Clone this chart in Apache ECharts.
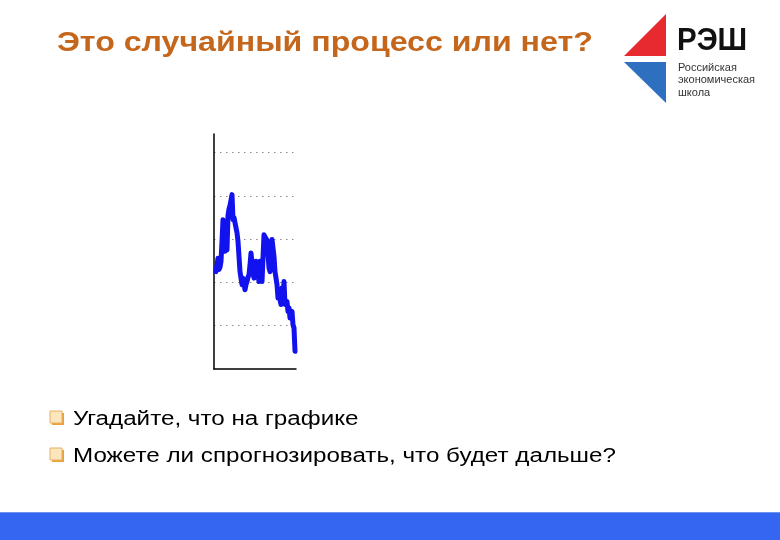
<!DOCTYPE html>
<html>
<head>
<meta charset="utf-8">
<script src="https://cdn.jsdelivr.net/npm/echarts@6/dist/echarts.min.js"></script>
<style>
html,body{margin:0;padding:0;background:#fff;}
#main{width:780px;height:540px;}
</style>
</head>
<body>
<div id="main"></div>
<script>
// Data (time index, value in grid units)
var timeIndex = [];
for (var k = 0; k < 80; k++) timeIndex.push(k);
var seriesValues = [
  2.25, 2.40, 2.56, 2.30, 2.35, 2.49, 2.95, 3.45, 3.10, 2.72,
  2.80, 2.75, 3.55, 3.70, 3.78, 3.90, 4.03, 3.45, 3.50, 3.38,
  3.42, 3.15, 2.95, 2.60, 2.25, 2.10, 1.95, 2.10, 1.98, 1.83,
  1.95, 2.02, 2.12, 2.18, 2.40, 2.68, 2.45, 2.25, 2.10, 2.30,
  2.49, 2.45, 2.20, 2.02, 2.49, 2.30, 2.02, 2.56, 3.10, 3.05,
  3.03, 2.98, 2.95, 2.33, 2.25, 2.60, 2.99, 2.95, 2.60, 2.25,
  2.10, 1.95, 1.64, 1.72, 1.60, 1.49, 1.87, 1.64, 2.02, 1.49,
  1.52, 1.56, 1.33, 1.41, 1.18, 1.28, 1.33, 1.02, 0.95, 0.41
];
var titleText = 'Это случайный процесс или нет?';
var bulletTexts = ['Угадайте, что на графике', 'Можете ли спрогнозировать, что будет дальше?'];
var logoBig = 'РЭШ';
var logoSmall = ['Российская', 'экономическая', 'школа'];

var pairs = timeIndex.map(function (t, i) { return [t, seriesValues[i]]; });

var chart = echarts.init(document.getElementById('main'), null, {renderer: 'canvas'});

var graphics = [];
// title (slide is stretched horizontally)
graphics.push({
  type: 'text', x: 57, y: 30, scaleX: 1.19,
  style: {x: 0, y: 0, text: titleText, font: 'bold 27px "Liberation Sans", Arial, sans-serif', fill: '#c4661c'}
});
// logo triangles
graphics.push({type: 'polygon', shape: {points: [[666, 14], [624, 56], [666, 56]]}, style: {fill: '#e62a30'}});
graphics.push({type: 'polygon', shape: {points: [[624, 62], [666, 62], [666, 103]]}, style: {fill: '#2f6fc0'}});
graphics.push({
  type: 'text', x: 677, y: 26, scaleX: 0.95,
  style: {x: 0, y: 0, text: logoBig, font: 'bold 31px "Liberation Sans", Arial, sans-serif', fill: '#111'}
});
logoSmall.forEach(function (s, i) {
  graphics.push({
    type: 'text', x: 678, y: 62 + i * 12.5,
    style: {x: 0, y: 0, text: s, font: '11px "Liberation Sans", Arial, sans-serif', fill: '#333'}
  });
});
// bullets
bulletTexts.forEach(function (s, i) {
  var y0 = 411 + i * 37;
  graphics.push({type: 'rect', shape: {x: 52, y: y0 + 2, width: 12, height: 12}, style: {fill: '#e9a23a'}});
  graphics.push({type: 'rect', shape: {x: 50, y: y0, width: 12, height: 12}, style: {fill: '#fbe6bd', stroke: '#eab060', lineWidth: 1}});
  graphics.push({
    type: 'text', x: 73, y: y0 - 1.5, scaleX: 1.21,
    style: {x: 0, y: 0, text: s, font: '20px "Liberation Sans", Arial, sans-serif', fill: '#000'}
  });
});
// bottom bar
graphics.push({type: 'rect', shape: {x: 0, y: 512, width: 780, height: 28}, style: {fill: '#3466f2'}});
graphics.push({type: 'rect', shape: {x: 0, y: 512, width: 780, height: 1}, style: {fill: '#6f94f0'}});

chart.setOption({
  animation: false,
  backgroundColor: '#ffffff',
  grid: {left: 214, top: 134, width: 82, height: 235, containLabel: false},
  xAxis: {
    type: 'value', min: -2, max: 80,
    axisLine: {show: true, onZero: false, lineStyle: {color: '#000', width: 1.5}},
    axisTick: {show: false}, axisLabel: {show: false}, splitLine: {show: false}
  },
  yAxis: {
    type: 'value', min: 0, max: 5.43, interval: 1,
    axisLine: {show: true, onZero: false, lineStyle: {color: '#000', width: 1.5}},
    axisTick: {show: false}, axisLabel: {show: false},
    splitLine: {show: true, showMinLine: false, showMaxLine: false, lineStyle: {color: '#8a8a8a', type: [1.5, 4.5], width: 1}}
  },
  series: [{
    type: 'line', data: pairs, symbol: 'none', smooth: false,
    lineStyle: {color: '#1212ee', width: 5, join: 'round', cap: 'round'}
  }],
  graphic: graphics
});
</script>
</body>
</html>
